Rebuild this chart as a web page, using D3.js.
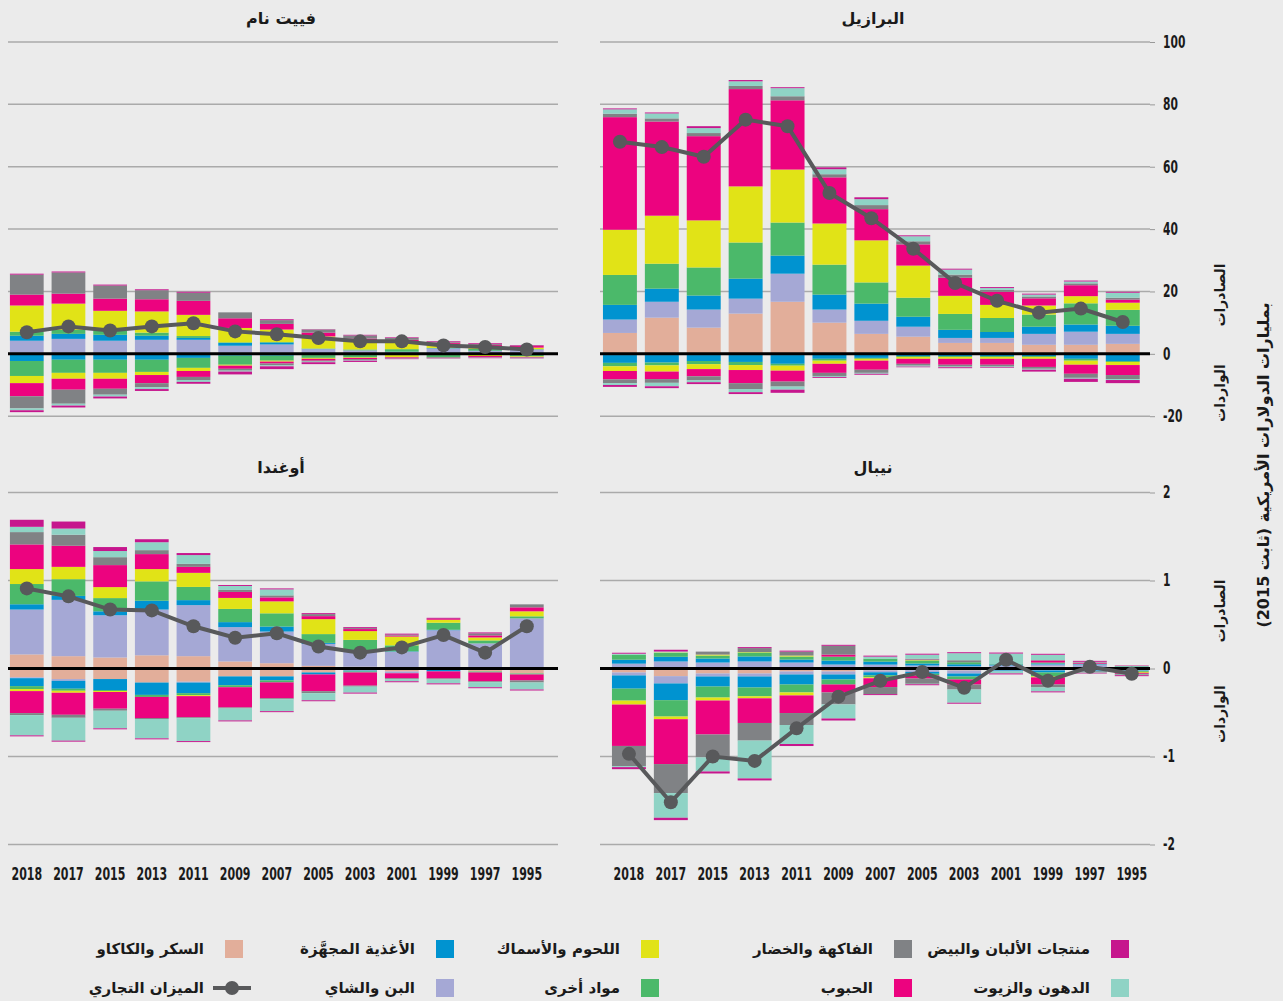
<!DOCTYPE html>
<html>
<head>
<meta charset="utf-8">
<script src="https://cdn.jsdelivr.net/npm/d3@7"></script>
<style>
  body { margin: 0; background: #ebebeb; }
  svg { display: block; }
  .num { font-family: "DejaVu Sans Condensed", "DejaVu Sans", sans-serif; font-weight: bold; fill: #1a1a1a; }
  .ar { font-family: "DejaVu Sans", sans-serif; font-weight: bold; fill: #1a1a1a; }
</style>
</head>
<body>
<div id="container"></div>
<script>
/* DATA */
const years = [2018, 2017, 2015, 2013, 2011, 2009, 2007, 2005, 2003, 2001, 1999, 1997, 1995];

// stack order from zero outwards
const categories = ["السكر والكاكاو", "البن والشاي", "الأغذية المجهَّزة", "مواد أخرى", "اللحوم والأسماك",
  "الحبوب", "الفاكهة والخضار", "الدهون والزيوت", "منتجات الألبان والبيض"];
const colors = ["#e2ae9a", "#a5a8d5", "#0093d0", "#4bb96a", "#e1e317",
  "#ec037f", "#808285", "#8fd3c5", "#c6168d"];

const yTicksTop = [100, 80, 60, 40, 20, 0, -20];
const yTicksBottom = [2, 1, 0, -1, -2];

// Brazil, billions USD, one row per year
const brazilExports = [
  [6.7, 4.3, 4.7, 9.6, 14.5, 36.1, 1.1, 1.4, 0.3],
  [11.6, 5.1, 4.2, 8.0, 15.4, 30.2, 1.0, 1.6, 0.3],
  [8.4, 5.8, 4.5, 9.0, 15.1, 27.0, 1.0, 1.6, 0.6],
  [12.9, 4.8, 6.4, 11.6, 18.0, 31.2, 1.0, 1.5, 0.4],
  [16.7, 9.0, 5.8, 10.6, 17.0, 22.2, 1.3, 2.6, 0.3],
  [10.0, 4.2, 4.8, 9.6, 13.2, 14.8, 1.0, 1.6, 0.6],
  [6.4, 4.2, 5.5, 6.8, 13.5, 10.0, 1.3, 1.9, 0.6],
  [5.5, 3.2, 3.2, 6.1, 10.3, 6.8, 1.0, 1.6, 0.3],
  [3.5, 1.6, 2.6, 5.1, 5.8, 5.8, 1.0, 1.6, 0.3],
  [3.5, 1.6, 1.9, 4.5, 4.2, 4.2, 0.6, 0.6, 0.3],
  [2.9, 3.5, 2.3, 3.9, 2.9, 2.3, 0.6, 0.6, 0.3],
  [2.9, 4.2, 2.3, 6.8, 2.3, 3.5, 0.6, 0.6, 0.3],
  [3.2, 3.2, 2.6, 5.1, 2.3, 1.0, 0.6, 1.6, 0.3]
];
const brazilImports = [
  [0.2, 0.2, 2.5, 1.1, 1.5, 2.7, 1.2, 0.6, 0.6],
  [0.2, 0.2, 2.4, 0.9, 2.0, 2.4, 1.2, 1.1, 0.6],
  [0.2, 0.2, 1.9, 1.0, 1.6, 2.3, 1.3, 0.6, 0.6],
  [0.2, 0.2, 2.2, 1.0, 1.6, 4.2, 1.9, 1.0, 0.6],
  [0.2, 0.2, 2.8, 0.6, 1.6, 3.5, 1.6, 1.0, 1.0],
  [0.1, 0.1, 1.4, 0.6, 1.0, 2.9, 1.0, 0.3, 0.3],
  [0.1, 0.1, 1.1, 0.3, 0.6, 2.9, 1.0, 0.3, 0.3],
  [0.1, 0.1, 0.5, 0.3, 0.6, 1.6, 0.6, 0.3, 0.2],
  [0.1, 0.1, 0.5, 0.3, 0.6, 1.9, 0.6, 0.2, 0.3],
  [0.1, 0.1, 0.5, 0.3, 0.6, 1.9, 0.6, 0.2, 0.2],
  [0.1, 0.1, 0.5, 0.3, 0.6, 2.6, 0.6, 0.3, 0.6],
  [0.1, 0.1, 1.4, 0.6, 1.3, 2.9, 1.3, 0.3, 1.0],
  [0.1, 0.1, 2.1, 0.3, 1.0, 3.2, 1.3, 0.3, 1.0]
];
const brazilBalance = [68.0, 66.3, 63.2, 75.1, 73.0, 51.6, 43.5, 33.7, 22.7, 17.0, 13.2, 14.5, 10.2];

// Viet Nam
const vietnamExports = [
  [0.3, 3.9, 1.6, 1.3, 8.4, 3.5, 6.4, 0, 0.3],
  [0.3, 4.5, 1.6, 1.3, 8.4, 3.2, 6.8, 0, 0.3],
  [0.3, 3.9, 1.9, 1.3, 6.4, 3.9, 4.2, 0, 0.3],
  [0.3, 4.2, 1.3, 1.0, 6.8, 3.9, 2.9, 0, 0.3],
  [0.3, 4.2, 0.6, 0.6, 6.8, 4.5, 2.6, 0, 0.3],
  [0.2, 2.4, 0.9, 0.2, 4.6, 3.1, 1.9, 0, 0],
  [0.2, 2.8, 0.6, 0.2, 4.0, 1.8, 1.2, 0, 0.3],
  [0.1, 1.4, 0.1, 0.1, 3.9, 1.2, 1.0, 0, 0.1],
  [0.1, 1.0, 0, 0.3, 2.9, 0.6, 1.0, 0, 0.2],
  [0.1, 0.5, 0.1, 0.8, 2.6, 0.4, 0.6, 0, 0.2],
  [0.1, 1.6, 0.1, 0.1, 1.3, 0.4, 0.3, 0, 0.2],
  [0, 0.9, 0.1, 0.6, 0.6, 0.6, 0.3, 0, 0.3],
  [0.1, 1.2, 0.1, 0.1, 0.5, 0.5, 0.1, 0, 0.2]
];
const vietnamImports = [
  [0.1, 0.1, 2.1, 4.8, 2.3, 4.2, 3.9, 0.6, 0.6],
  [0.1, 0.1, 1.7, 4.2, 1.9, 3.5, 4.5, 0.6, 0.6],
  [0.1, 0.1, 1.7, 4.2, 1.9, 3.2, 1.9, 0.6, 0.6],
  [0.1, 0.1, 1.7, 3.9, 1.0, 2.6, 1.3, 0.6, 0.6],
  [0.1, 0.1, 1.1, 3.2, 1.0, 1.9, 1.0, 0.6, 0.6],
  [0.1, 0.1, 0.4, 2.9, 0.3, 1.0, 0.6, 0.3, 0.9],
  [0.1, 0.1, 0.4, 1.6, 0.3, 0.6, 0.6, 0.3, 0.9],
  [0.1, 0.1, 0.2, 0.9, 0.3, 0.6, 0.3, 0.2, 0.6],
  [0.1, 0.1, 0.2, 0.7, 0.2, 0.4, 0.3, 0.2, 0.4],
  [0, 0, 0.1, 0.2, 0.8, 0.2, 0.1, 0.1, 0.2],
  [0, 0, 0.1, 1.1, 0, 0.1, 0.1, 0, 0.1],
  [0, 0, 0, 0.2, 0.5, 0.3, 0.1, 0.1, 0.2],
  [0, 0, 0.1, 0.7, 0.2, 0.2, 0.1, 0.1, 0.1]
];
const vietnamBalance = [6.9, 8.8, 7.5, 8.8, 9.8, 7.2, 6.3, 5.1, 4.0, 4.0, 2.7, 2.2, 1.4];

// Nepal
const nepalExports = [
  [0.01, 0.045, 0.045, 0.057, 0, 0, 0, 0.011, 0.011],
  [0, 0.08, 0.053, 0.045, 0.005, 0, 0, 0.01, 0.02],
  [0, 0.068, 0.045, 0.034, 0.011, 0, 0.034, 0, 0],
  [0, 0.08, 0.057, 0.045, 0.005, 0, 0.045, 0, 0.011],
  [0, 0.068, 0.034, 0.034, 0.011, 0, 0.045, 0, 0.011],
  [0, 0.045, 0.045, 0.045, 0, 0.023, 0.10, 0, 0.011],
  [0.01, 0.034, 0.034, 0.034, 0, 0, 0, 0.023, 0.011],
  [0.011, 0.023, 0.023, 0.034, 0.005, 0.005, 0.011, 0.045, 0.011],
  [0.005, 0.02, 0.023, 0.023, 0, 0, 0.023, 0.08, 0.011],
  [0.011, 0.023, 0.011, 0.005, 0, 0, 0, 0.12, 0.011],
  [0.023, 0.023, 0.011, 0.011, 0, 0.023, 0.005, 0.06, 0.011],
  [0.011, 0.034, 0.005, 0.005, 0, 0.011, 0.005, 0.005, 0.011],
  [0.005, 0.015, 0.005, 0.002, 0.002, 0, 0, 0, 0.005]
];
const nepalImports = [
  [0.045, 0.034, 0.15, 0.136, 0.045, 0.47, 0.23, 0.011, 0.023],
  [0.087, 0.083, 0.19, 0.186, 0.03, 0.51, 0.33, 0.28, 0.027],
  [0.057, 0.034, 0.114, 0.125, 0.034, 0.386, 0.26, 0.16, 0.023],
  [0.057, 0.034, 0.125, 0.10, 0.023, 0.28, 0.20, 0.43, 0.023],
  [0.034, 0.034, 0.114, 0.09, 0.034, 0.20, 0.136, 0.216, 0.023],
  [0.034, 0.034, 0.057, 0.057, 0, 0.09, 0.136, 0.16, 0.023],
  [0.023, 0.02, 0.034, 0.023, 0.011, 0.10, 0.08, 0, 0.011],
  [0.02, 0.02, 0.02, 0.02, 0, 0.034, 0.06, 0.005, 0.011],
  [0.023, 0.034, 0.034, 0.034, 0, 0.057, 0.057, 0.15, 0.011],
  [0.011, 0.011, 0.011, 0, 0, 0, 0, 0.023, 0.011],
  [0.011, 0.011, 0.023, 0.045, 0.011, 0.08, 0.034, 0.045, 0.011],
  [0.011, 0.011, 0.011, 0.005, 0, 0.005, 0.005, 0.005, 0.005],
  [0.011, 0.011, 0.005, 0.011, 0.011, 0.011, 0.011, 0.005, 0.011]
];
const nepalBalance = [-0.97, -1.52, -1.0, -1.05, -0.68, -0.32, -0.14, -0.04, -0.22, 0.10, -0.14, 0.02, -0.06];

// Uganda
const ugandaExports = [
  [0.16, 0.51, 0.06, 0.23, 0.17, 0.28, 0.14, 0.06, 0.08],
  [0.14, 0.64, 0.045, 0.19, 0.14, 0.24, 0.125, 0.07, 0.08],
  [0.125, 0.48, 0.045, 0.15, 0.125, 0.25, 0.09, 0.07, 0.045],
  [0.15, 0.52, 0.10, 0.22, 0.14, 0.17, 0.045, 0.09, 0.034],
  [0.14, 0.58, 0.057, 0.15, 0.16, 0.068, 0.034, 0.10, 0.023],
  [0.08, 0.39, 0.057, 0.15, 0.125, 0.068, 0.023, 0.045, 0.011],
  [0.06, 0.36, 0.057, 0.15, 0.136, 0.045, 0.023, 0.068, 0.011],
  [0.03, 0.25, 0.011, 0.10, 0.17, 0.034, 0.023, 0, 0.011],
  [0.02, 0.17, 0.01, 0.125, 0.10, 0.023, 0.011, 0, 0.011],
  [0.01, 0.18, 0.005, 0.068, 0.10, 0.011, 0.011, 0, 0.011],
  [0.005, 0.43, 0.005, 0.08, 0.034, 0.011, 0, 0, 0.011],
  [0.005, 0.28, 0, 0.034, 0.034, 0.023, 0.023, 0, 0.011],
  [0, 0.57, 0, 0.023, 0.057, 0.045, 0.034, 0, 0]
];
const ugandaImports = [
  [0.10, 0.01, 0.09, 0.034, 0.023, 0.25, 0.023, 0.23, 0.011],
  [0.12, 0.02, 0.09, 0.023, 0.023, 0.25, 0.034, 0.26, 0.011],
  [0.12, 0, 0.125, 0.011, 0.011, 0.19, 0.023, 0.20, 0.011],
  [0.16, 0, 0.14, 0.023, 0, 0.24, 0.011, 0.22, 0.011],
  [0.15, 0.01, 0.12, 0.023, 0.011, 0.24, 0.011, 0.26, 0.011],
  [0.09, 0, 0.10, 0.023, 0, 0.23, 0.011, 0.136, 0.011],
  [0.09, 0, 0.045, 0.023, 0, 0.18, 0.011, 0.136, 0.011],
  [0.045, 0, 0.023, 0, 0, 0.19, 0.023, 0.08, 0.011],
  [0.023, 0, 0.011, 0.011, 0, 0.15, 0.011, 0.068, 0.011],
  [0.034, 0.02, 0, 0, 0, 0.057, 0.011, 0.023, 0.011],
  [0.01, 0, 0.023, 0, 0, 0.08, 0.011, 0.045, 0.011],
  [0.034, 0, 0, 0.011, 0, 0.10, 0.011, 0.057, 0.011],
  [0.057, 0, 0, 0.011, 0, 0.068, 0.023, 0.08, 0.011]
];
const ugandaBalance = [0.91, 0.82, 0.67, 0.66, 0.48, 0.35, 0.40, 0.25, 0.18, 0.24, 0.38, 0.18, 0.48];

/* CONSTANTS */
const width = 1283, height = 1001;
const balanceColor = "#58595b";

const svg = d3.select("#container")
  .append("svg")
  .attr("width", width)
  .attr("height", height)
  .style("background-color", "#ebebeb");

/* SCALES */
const yTop = d3.scaleLinear().domain([-20, 100]).range([416.2, 42]);
const yBottom = d3.scaleLinear().domain([-2, 2]).range([844.5, 492.5]);

const panels = [
  { title: "البرازيل", exp: brazilExports, imp: brazilImports, bal: brazilBalance,
    y: yTop, ticks: yTicksTop, band: [595, 1147.7], grid: [600, 1150], titleY: 24 },
  { title: "فييت نام", exp: vietnamExports, imp: vietnamImports, bal: vietnamBalance,
    y: yTop, ticks: yTicksTop, band: [2, 551.6], grid: [8, 558], titleY: 24 },
  { title: "نيبال", exp: nepalExports, imp: nepalImports, bal: nepalBalance,
    y: yBottom, ticks: yTicksBottom, band: [604, 1156.7], grid: [600, 1150], titleY: 473 },
  { title: "أوغندا", exp: ugandaExports, imp: ugandaImports, bal: ugandaBalance,
    y: yBottom, ticks: yTicksBottom, band: [2, 551.6], grid: [8, 558], titleY: 473 }
];

const stack = d3.stack().keys(d3.range(categories.length));

panels.forEach(p => {
  const g = svg.append("g");
  const y = p.y;
  const x = d3.scaleBand()
    .domain(years)
    .range(p.band)
    .padding(0.19);
  p.x = x;

  // gridlines
  g.selectAll(".grid")
    .data(p.ticks.filter(t => t !== 0))
    .join("line")
    .attr("x1", p.grid[0])
    .attr("x2", p.grid[1])
    .attr("y1", d => y(d))
    .attr("y2", d => y(d))
    .attr("stroke", "#aaaaaa")
    .attr("stroke-width", 1.5);

  // exports, stacked upwards
  const expSeries = stack(p.exp);
  g.append("g").selectAll("g")
    .data(expSeries)
    .join("g")
    .attr("fill", (d, i) => colors[i])
    .selectAll("rect")
    .data(d => d)
    .join("rect")
    .attr("x", (d, i) => x(years[i]))
    .attr("width", x.bandwidth())
    .attr("y", d => y(d[1]))
    .attr("height", d => Math.max(0, y(d[0]) - y(d[1])));

  // imports, stacked downwards
  const impSeries = stack(p.imp);
  g.append("g").selectAll("g")
    .data(impSeries)
    .join("g")
    .attr("fill", (d, i) => colors[i])
    .selectAll("rect")
    .data(d => d)
    .join("rect")
    .attr("x", (d, i) => x(years[i]))
    .attr("width", x.bandwidth())
    .attr("y", d => y(-d[0]))
    .attr("height", d => Math.max(0, y(-d[1]) - y(-d[0])));

  // zero line
  g.append("line")
    .attr("x1", p.grid[0])
    .attr("x2", p.grid[1])
    .attr("y1", y(0))
    .attr("y2", y(0))
    .attr("stroke", "#000")
    .attr("stroke-width", 3);

  // trade balance
  const line = d3.line()
    .x((d, i) => x(years[i]) + x.bandwidth() / 2)
    .y(d => y(d));
  g.append("path")
    .datum(p.bal)
    .attr("d", line)
    .attr("fill", "none")
    .attr("stroke", balanceColor)
    .attr("stroke-width", 4);
  g.selectAll(".dot")
    .data(p.bal)
    .join("circle")
    .attr("class", "dot")
    .attr("cx", (d, i) => x(years[i]) + x.bandwidth() / 2)
    .attr("cy", d => y(d))
    .attr("r", 7)
    .attr("fill", balanceColor);

  // title
  svg.append("text")
    .attr("class", "ar")
    .attr("x", (p.grid[0] + p.grid[1]) / 2 - 2)
    .attr("y", p.titleY)
    .attr("text-anchor", "middle")
    .style("font-size", "16px")
    .text(p.title);
});

/* AXES */
[[yTop, yTicksTop], [yBottom, yTicksBottom]].forEach(([y, ticks]) => {
  const axis = d3.axisRight(y)
    .tickValues(ticks)
    .tickSize(5)
    .tickPadding(8)
    .tickFormat(d => String(d));
  const ag = svg.append("g")
    .attr("transform", "translate(1150, 0)")
    .call(axis);
  ag.select(".domain").remove();
  ag.selectAll(".tick line").attr("stroke", "#999");
  ag.selectAll(".tick text")
    .attr("class", "num")
    .attr("x", 0)
    .attr("transform", "translate(13, 0) scale(0.7, 1)")
    .style("font-size", "17px");
});

// year labels under the bottom panels
[panels[2], panels[3]].forEach(p => {
  const xa = d3.axisBottom(p.x).tickSize(0).tickPadding(0);
  const ag = svg.append("g")
    .attr("transform", "translate(0, 868)")
    .call(xa);
  ag.select(".domain").remove();
  ag.selectAll(".tick text")
    .attr("class", "num")
    .attr("transform", "scale(0.72, 1)")
    .style("font-size", "17px");
});

// side labels
const sideLabels = [
  ["الصادرات", 1220, 295],
  ["الواردات", 1220, 393],
  ["الصادرات", 1220, 611],
  ["الواردات", 1220, 714]
];
sideLabels.forEach(([t, cx, cy]) => {
  svg.append("text")
    .attr("class", "ar")
    .attr("transform", `translate(${cx + 5}, ${cy}) rotate(-90)`)
    .attr("text-anchor", "middle")
    .style("font-size", "14px")
    .text(t);
});
svg.append("text")
  .attr("class", "ar")
  .attr("transform", "translate(1269, 465) rotate(-90)")
  .attr("text-anchor", "middle")
  .style("font-size", "16px")
  .text("بمليارات الدولارات الأمريكية (ثابت 2015)");

/* LEGEND */
const legendItems = [
  { i: 8, col: 0, row: 0 }, { i: 6, col: 1, row: 0 }, { i: 4, col: 2, row: 0 },
  { i: 2, col: 3, row: 0 }, { i: 0, col: 4, row: 0 },
  { i: 7, col: 0, row: 1 }, { i: 5, col: 1, row: 1 }, { i: 3, col: 2, row: 1 },
  { i: 1, col: 3, row: 1 }, { i: -1, col: 4, row: 1 }
];
const colX = [1111, 894, 641, 436, 225];
const rowY = [949, 988];

const lg = svg.append("g");
legendItems.forEach(it => {
  const sx = colX[it.col], cy = rowY[it.row];
  if (it.i >= 0) {
    lg.append("rect")
      .attr("x", sx)
      .attr("y", cy - 9)
      .attr("width", 18)
      .attr("height", 18)
      .attr("fill", colors[it.i]);
  } else {
    lg.append("line")
      .attr("x1", sx - 12).attr("x2", sx + 26)
      .attr("y1", cy).attr("y2", cy)
      .attr("stroke", balanceColor).attr("stroke-width", 4);
    lg.append("circle")
      .attr("cx", sx + 7).attr("cy", cy).attr("r", 7)
      .attr("fill", balanceColor);
  }
  lg.append("text")
    .attr("class", "ar")
    .attr("x", sx - 21)
    .attr("y", cy + 5)
    .attr("text-anchor", "end")
    .style("font-size", "15px")
    .text(it.i >= 0 ? categories[it.i] : "الميزان التجاري");
});
</script>
</body>
</html>
